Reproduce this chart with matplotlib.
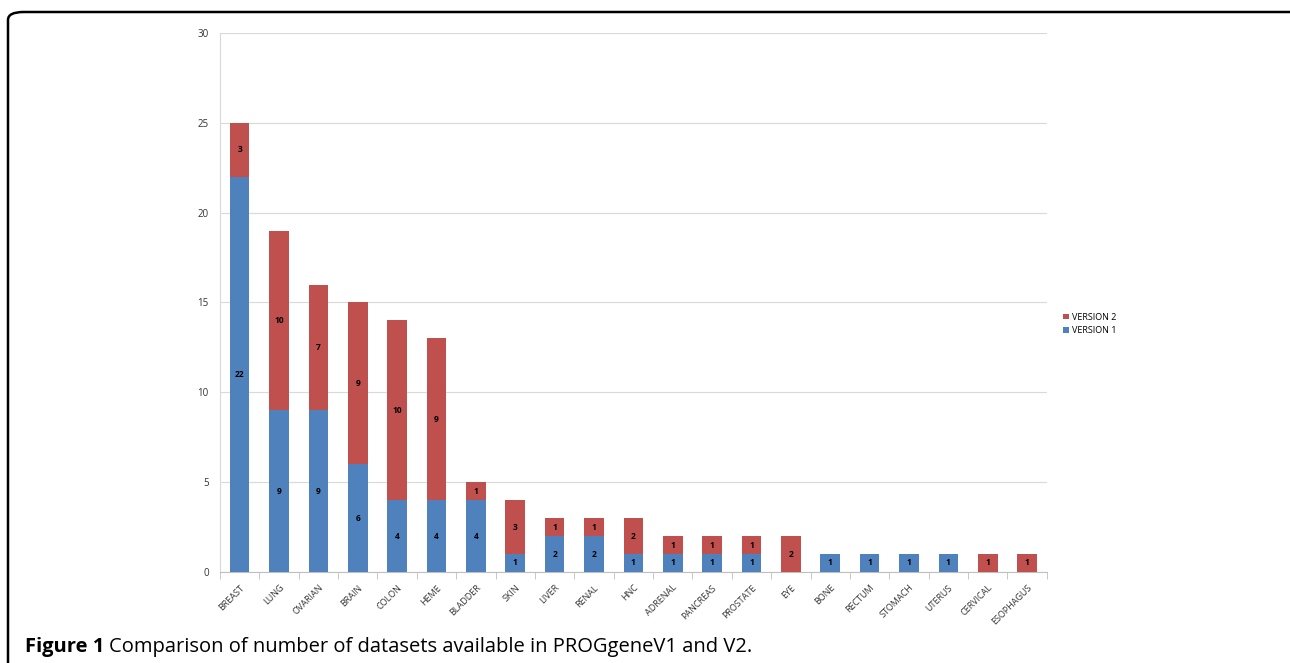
import matplotlib.pyplot as plt
import numpy as np
from matplotlib.patches import FancyBboxPatch

categories = ["BREAST", "LUNG", "OVARIAN", "BRAIN", "COLON", "HEME", "BLADDER",
              "SKIN", "LIVER", "RENAL", "HNC", "ADRENAL", "PANCREAS", "PROSTATE",
              "EYE", "BONE", "RECTUM", "STOMACH", "UTERUS", "CERVICAL", "ESOPHAGUS"]
version1 = [22, 9, 9, 6, 4, 4, 4, 1, 2, 2, 1, 1, 1, 1, 0, 1, 1, 1, 1, 0, 0]
version2 = [3, 10, 7, 9, 10, 9, 1, 3, 1, 1, 2, 1, 1, 1, 2, 0, 0, 0, 0, 1, 1]

plt.rcParams['font.family'] = ['Open Sans', 'DejaVu Sans']

blue = "#4F81BD"
red = "#C0504D"

fig = plt.figure(figsize=(12.9, 6.63), dpi=100)
ax = fig.add_axes([0.1705, 0.1373, 0.641, 0.8129])

x = np.arange(len(categories))
v1 = np.array(version1)
v2 = np.array(version2)
ax.bar(x, v1, width=0.5, color=blue, label="VERSION 1", zorder=3)
ax.bar(x, v2, width=0.5, bottom=v1, color=red, label="VERSION 2", zorder=3)

for i in range(len(x)):
    if v1[i] > 0:
        ax.text(x[i], v1[i] / 2, str(v1[i]), ha="center", va="center",
                fontsize=6, fontweight="bold", color="black", zorder=4)
    if v2[i] > 0:
        ax.text(x[i], v1[i] + v2[i] / 2, str(v2[i]), ha="center", va="center",
                fontsize=6, fontweight="bold", color="black", zorder=4)

ax.set_xlim(-0.5, len(categories) - 0.5)
ax.set_ylim(0, 30)
ax.set_yticks(range(0, 31, 5))
ax.yaxis.grid(True, color="#d9d9d9", linewidth=0.8, zorder=0)
ax.tick_params(axis="y", length=0, labelsize=7, pad=8, colors="#333333")

ax.set_xticks(x)
ax.set_xticklabels(categories, rotation=45, ha="right", rotation_mode="anchor",
                   fontsize=6.5, color="#333333")
ax.set_xticks(np.arange(-0.5, len(categories), 1), minor=True)
ax.tick_params(axis="x", which="major", length=0, pad=8)
ax.tick_params(axis="x", which="minor", length=5, color="#bfbfbf")

for s in ["top", "right"]:
    ax.spines[s].set_visible(False)
ax.spines["left"].set_color("#d9d9d9")
ax.spines["bottom"].set_color("#bfbfbf")

h, l = ax.get_legend_handles_labels()
ax.legend(h[::-1], l[::-1], loc="center left", bbox_to_anchor=(1.01, 0.46),
          frameon=False, fontsize=6.5, handlelength=0.6, handleheight=0.6,
          handletextpad=0.4, labelspacing=0.5)

frame = FancyBboxPatch((8 / 1290, -0.05), 1.05, 1 - 12 / 663 + 0.05,
                       boxstyle="round,pad=0,rounding_size=0.012",
                       transform=fig.transFigure, fill=False,
                       edgecolor="black", linewidth=1.8, clip_on=False)
fig.patches.append(frame)

t = fig.text(25 / 1290, 1 - 647 / 663, "Figure 1", fontsize=14.5, fontweight="bold",
             va="center", ha="left")
fig.canvas.draw()
bb = t.get_window_extent()
fig.text((bb.x1 + 5) / 1290, 1 - 647 / 663,
         "Comparison of number of datasets available in PROGgeneV1 and V2.",
         fontsize=14.5, va="center", ha="left")

plt.savefig("out.png", dpi=100)
